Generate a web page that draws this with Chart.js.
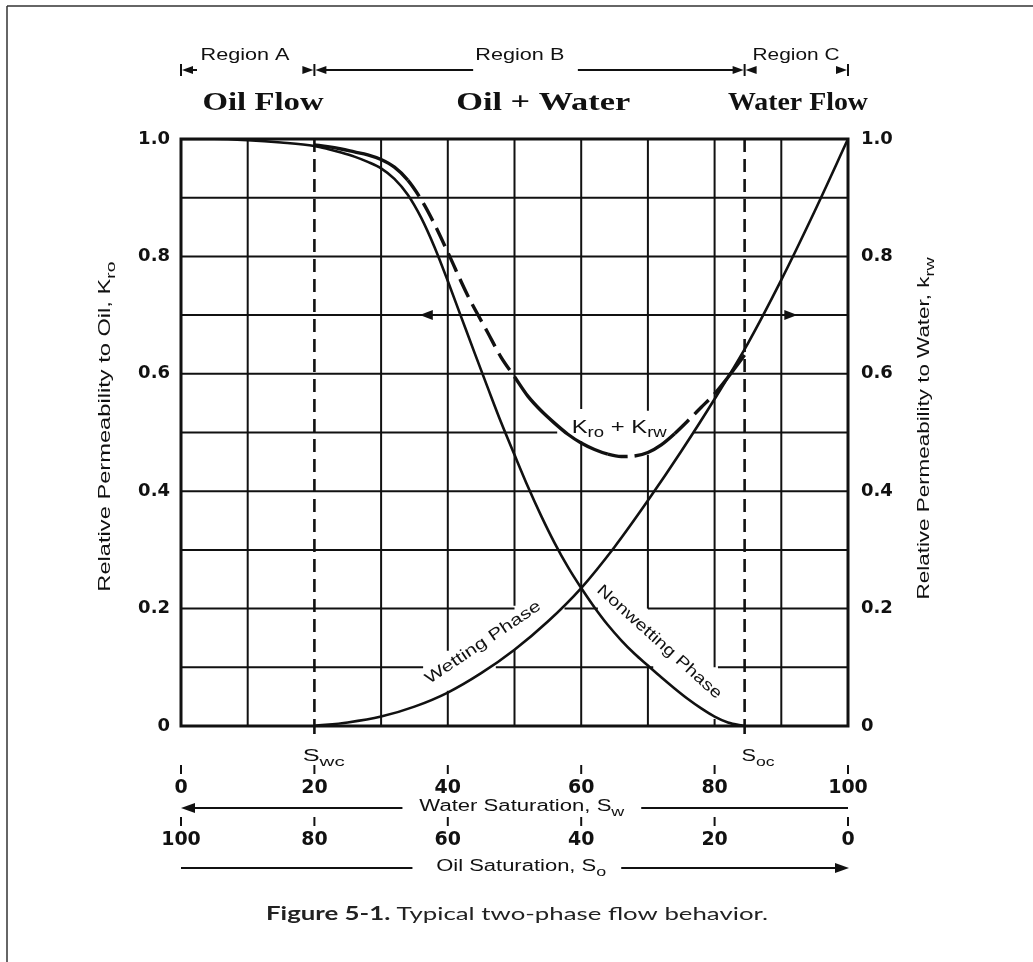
<!DOCTYPE html>
<html lang="en">
<head>
<meta charset="UTF-8" />
<title>Typical two-phase flow behavior</title>
<script src="https://cdn.jsdelivr.net/npm/chart.js"></script>
<style>
    html, body { margin: 0; background: #fff; }
    #flowChart { display: block; }
</style>
</head>
<body>
<canvas id="flowChart" width="1033" height="962"></canvas>
<script>
    // relative permeability to oil vs water saturation (%)
    const swOil = [0, 5, 10, 15, 20, 22, 24, 26, 28, 30, 32, 34, 36, 38, 40, 42, 44, 46, 48, 50, 52, 54, 56, 58, 60, 62, 64, 66, 68, 70, 72, 74, 76, 78, 80, 82, 84.5];
    const kro = [1.0, 1.0, 0.998, 0.994, 0.988, 0.983, 0.977, 0.97, 0.961, 0.95, 0.932, 0.905, 0.866, 0.816, 0.758, 0.697, 0.636, 0.576, 0.517, 0.462, 0.408, 0.358, 0.312, 0.271, 0.235, 0.202, 0.172, 0.146, 0.123, 0.103, 0.083, 0.064, 0.046, 0.03, 0.016, 0.006, 0];

    // relative permeability to water
    const swWater = [20, 25, 30, 35, 40, 45, 50, 55, 60, 65, 70, 75, 80, 85, 90, 95, 100];
    const krw = [0, 0.006, 0.016, 0.033, 0.057, 0.09, 0.13, 0.178, 0.235, 0.305, 0.384, 0.468, 0.557, 0.652, 0.76, 0.877, 1.0];

    // total relative permeability
    const swTotal = [20, 22, 24, 26, 28, 30, 32, 34, 36, 38, 40, 43, 46, 48, 50, 52, 54, 56, 58, 60, 62, 64, 66, 68, 70, 72, 74, 76, 78, 80, 82, 84.5];
    const kroPlusKrw = [0.99, 0.987, 0.983, 0.978, 0.973, 0.965, 0.952, 0.93, 0.897, 0.855, 0.807, 0.733, 0.67, 0.628, 0.595, 0.562, 0.537, 0.516, 0.497, 0.482, 0.471, 0.463, 0.459, 0.46, 0.466, 0.479, 0.498, 0.52, 0.543, 0.566, 0.594, 0.632];

    // tick labels
    const waterSatTicks = [0, 20, 40, 60, 80, 100];
    const oilSatTicks = [100, 80, 60, 40, 20, 0];
    const krTicks = [0, 0.2, 0.4, 0.6, 0.8, 1.0];
    const krTickLabels = ['0', '0.2', '0.4', '0.6', '0.8', '1.0'];

    // connate water / critical oil saturation, %
    const swc = 20;
    const soc = 84.5;

    const INK = '#111';
    const SANS = '"Liberation Sans", Arial, sans-serif';
    const SERIF = '"Liberation Serif", "Times New Roman", serif';
    const DIGITS = '"DejaVu Sans", Verdana, sans-serif';
    const CAPTION = 'Lato, "Open Sans", sans-serif';

    // grid pieces left blank behind the curve labels (axis units)
    const vGaps = { 40: [[0.06, 0.128]], 50: [[0.13, 0.205]], 60: [[0.485, 0.54]], 70: [[0.1, 0.2], [0.462, 0.537]], 80: [[0.012, 0.1]] };
    const hGaps = { '0.1': [[36.3, 47.2], [70.8, 80.5]], '0.2': [[50, 57.5], [62.5, 70]], '0.5': [[56.4, 76.8]] };

    // Sw ranges where the Kro + Krw curve is broken into dashes
    const sumDashed = [[34, 50], [64, 68], [74, 80]];

    const toPoints = (xs, ys) => xs.map((v, i) => ({ x: v, y: ys[i] }));

    function keep(lo, hi, gaps) {
        const out = [];
        let s = lo;
        (gaps || []).slice().sort((a, b) => a[0] - b[0]).forEach(([a, b]) => {
            if (a > s) out.push([s, a]);
            s = Math.max(s, b);
        });
        if (s < hi) out.push([s, hi]);
        return out;
    }

    function seg(ctx, x1, y1, x2, y2) {
        ctx.beginPath();
        ctx.moveTo(x1, y1);
        ctx.lineTo(x2, y2);
        ctx.stroke();
    }

    function arrowHead(ctx, tipX, tipY, dir, len, half) {
        ctx.beginPath();
        ctx.moveTo(tipX, tipY);
        ctx.lineTo(tipX - dir * len, tipY - half);
        ctx.lineTo(tipX - dir * len, tipY + half);
        ctx.closePath();
        ctx.fill();
    }

    // text made of plain and subscript runs, centred on (cx, cy)
    function drawRich(ctx, parts, cx, cy, o) {
        const size = o.size;
        const fam = o.family || SANS;
        const subSize = Math.round(size * 0.8);
        const fontOf = p => `${p.bold ? 'bold' : (o.weight || 'normal')} ${p.sub ? subSize : size}px ${fam}`;
        ctx.save();
        ctx.translate(cx, cy);
        if (o.angle) ctx.rotate(o.angle * Math.PI / 180);
        const widths = parts.map(p => { ctx.font = fontOf(p); return ctx.measureText(p.t).width; });
        const total = widths.reduce((a, b) => a + b, 0);
        if (o.width) ctx.scale(o.width / total, 1);
        ctx.textAlign = 'left';
        ctx.textBaseline = 'middle';
        ctx.fillStyle = o.color || INK;
        let x0 = -total / 2;
        parts.forEach((p, i) => {
            ctx.font = fontOf(p);
            ctx.fillText(p.t, x0, p.sub ? size * 0.32 : 0);
            x0 += widths[i];
        });
        ctx.restore();
    }

    const figurePlugin = {
        id: 'figure',
        beforeDatasetsDraw(chart) {
            const { ctx, scales: { x, y } } = chart;
            const X = v => x.getPixelForValue(v);
            const Y = v => y.getPixelForValue(v);
            ctx.save();
            ctx.strokeStyle = INK;
            ctx.fillStyle = INK;

            // grid, every 10 % and every 0.1
            ctx.lineWidth = 2;
            x.ticks.forEach(({ value }) => {
                if (value <= 0 || value >= 100 || value === swc) return;
                keep(0, 1, vGaps[value]).forEach(([a, b]) => seg(ctx, X(value), Y(a), X(value), Y(b)));
            });
            y.ticks.forEach(({ value }) => {
                if (value <= 0 || value >= 1) return;
                keep(0, 100, hGaps[value.toFixed(1)]).forEach(([a, b]) => seg(ctx, X(a), Y(value), X(b), Y(value)));
            });

            ctx.lineWidth = 3;
            ctx.strokeRect(X(0), Y(1), X(100) - X(0), Y(0) - Y(1));

            // which scale to read: arrows on the 0.7 line
            arrowHead(ctx, X(35.8), Y(0.7), -1, 13, 5);
            arrowHead(ctx, X(92.4), Y(0.7), 1, 13, 5);

            // Swc and Soc markers
            ctx.lineWidth = 2.6;
            ctx.setLineDash([13, 7]);
            [swc, soc].forEach(s => seg(ctx, X(s), Y(1), X(s), Y(0)));
            ctx.setLineDash([]);
            [swc, soc].forEach(s => seg(ctx, X(s), Y(0), X(s), Y(0) + 8));
            ctx.restore();
        },
        afterDatasetsDraw(chart) {
            const { ctx, scales: { x, y } } = chart;
            const X = v => x.getPixelForValue(v);
            const Y = v => y.getPixelForValue(v);
            drawRich(ctx, [{ t: 'K' }, { t: 'ro', sub: true }, { t: ' + K' }, { t: 'rw', sub: true }], X(65.7), Y(0.508), { size: 18, width: 95 });
            drawRich(ctx, [{ t: 'Wetting Phase' }], X(45.3), Y(0.142), { size: 16, width: 136, angle: -34 });
            drawRich(ctx, [{ t: 'Nonwetting Phase' }], X(71.7), Y(0.143), { size: 16, width: 162, angle: 42 });
        },
        afterDraw(chart) {
            const { ctx, scales: { x, y } } = chart;
            const X = v => x.getPixelForValue(v);
            const Y = v => y.getPixelForValue(v);
            ctx.save();
            ctx.strokeStyle = INK;
            ctx.fillStyle = INK;

            // page frame
            ctx.strokeStyle = '#333';
            ctx.lineWidth = 1.5;
            seg(ctx, 7, 6, 7, 962);
            seg(ctx, 7, 6, 1033, 6);
            ctx.strokeStyle = INK;

            // flow regions across the top
            const ym = 70;
            ctx.lineWidth = 2;
            seg(ctx, X(0), ym - 6, X(0), ym + 6);
            arrowHead(ctx, X(0) + 1, ym, -1, 11, 4);
            seg(ctx, X(0) + 10, ym, X(0) + 16, ym);
            [swc, soc].forEach(s => {
                seg(ctx, X(s), ym - 6, X(s), ym + 6);
                arrowHead(ctx, X(s) - 1, ym, 1, 11, 4);
                arrowHead(ctx, X(s) + 1, ym, -1, 11, 4);
            });
            seg(ctx, X(100), ym - 6, X(100), ym + 6);
            arrowHead(ctx, X(100) - 1, ym, 1, 11, 4);
            seg(ctx, X(swc) + 10, ym, X(43.8), ym);
            seg(ctx, X(59.5), ym, X(soc) - 10, ym);

            drawRich(ctx, [{ t: 'Region A' }], X(9.6), 55, { size: 17, width: 89 });
            drawRich(ctx, [{ t: 'Region B' }], X(50.8), 55, { size: 17, width: 89 });
            drawRich(ctx, [{ t: 'Region C' }], X(92.2), 55, { size: 17, width: 87 });
            drawRich(ctx, [{ t: 'Oil Flow' }], X(12.3), 103, { size: 26, family: SERIF, weight: 'bold', width: 121 });
            drawRich(ctx, [{ t: 'Oil + Water' }], X(54.3), 103, { size: 26, family: SERIF, weight: 'bold', width: 174 });
            drawRich(ctx, [{ t: 'Water Flow' }], X(92.5), 103, { size: 26, family: SERIF, weight: 'bold', width: 140 });

            // axis titles
            drawRich(ctx, [{ t: 'Relative Permeability to Oil, K' }, { t: 'ro', sub: true }], 106, Y(0.51), { size: 16, width: 330, angle: -90 });
            drawRich(ctx, [{ t: 'Relative Permeability to Water, k' }, { t: 'rw', sub: true }], 925, Y(0.507), { size: 16, width: 342, angle: -90 });

            // saturation endpoints
            drawRich(ctx, [{ t: 'S' }, { t: 'wc', sub: true }], X(21.4), 757, { size: 16, width: 42 });
            drawRich(ctx, [{ t: 'S' }, { t: 'oc', sub: true }], X(86.5), 757, { size: 16, width: 33 });

            // small tick marks over both saturation scales
            ctx.lineWidth = 2;
            waterSatTicks.forEach(v => {
                seg(ctx, X(v), 765, X(v), 774);
                seg(ctx, X(v), 817, X(v), 826);
            });

            // water saturation grows to the left arrow, oil saturation to the right
            ctx.lineWidth = 2.2;
            seg(ctx, X(0) + 10, 808, X(33.2), 808);
            arrowHead(ctx, X(0), 808, -1, 14, 5);
            seg(ctx, X(69), 808, X(100), 808);
            drawRich(ctx, [{ t: 'Water Saturation, S' }, { t: 'w', sub: true }], X(51.1), 807, { size: 16, width: 205 });

            seg(ctx, X(0), 868, X(34.7), 868);
            seg(ctx, X(66), 868, X(100) - 10, 868);
            arrowHead(ctx, X(100) + 1, 868, 1, 14, 5);
            drawRich(ctx, [{ t: 'Oil Saturation, S' }, { t: 'o', sub: true }], X(51), 867, { size: 16, width: 170 });

            // caption
            drawRich(ctx, [{ t: 'Figure 5-1. ', bold: true }, { t: 'Typical two-phase flow behavior.' }], 517, 914, { size: 18, family: CAPTION, width: 502, color: '#222' });
            ctx.restore();
        }
    };

    const tickFont = { family: DIGITS, size: 18, weight: 'bold' };
    const krLabel = v => {
        const i = krTicks.findIndex(t => Math.abs(t - v) < 1e-6);
        return i >= 0 ? krTickLabels[i] : '';
    };

    const chart = new Chart(document.getElementById('flowChart'), {
        type: 'scatter',
        data: {
            datasets: [
                {
                    label: 'Kro (nonwetting phase)',
                    data: toPoints(swOil, kro),
                    showLine: true,
                    borderColor: INK,
                    borderWidth: 2.6,
                    pointRadius: 0,
                    cubicInterpolationMode: 'monotone'
                },
                {
                    label: 'Krw (wetting phase)',
                    data: toPoints(swWater, krw),
                    showLine: true,
                    borderColor: INK,
                    borderWidth: 2.6,
                    pointRadius: 0,
                    cubicInterpolationMode: 'monotone'
                },
                {
                    label: 'Kro + Krw',
                    data: toPoints(swTotal, kroPlusKrw),
                    showLine: true,
                    borderColor: INK,
                    borderWidth: 3.4,
                    pointRadius: 0,
                    cubicInterpolationMode: 'monotone',
                    segment: {
                        borderDash: c => sumDashed.some(([a, b]) => c.p0.parsed.x >= a && c.p0.parsed.x < b) ? [20, 8] : undefined
                    }
                }
            ]
        },
        options: {
            responsive: false,
            animation: false,
            devicePixelRatio: 1,
            layout: { padding: { left: 121, right: 125, top: 139, bottom: 99 } },
            plugins: { legend: { display: false }, tooltip: { enabled: false } },
            scales: {
                x: {
                    type: 'linear', position: 'bottom', min: 0, max: 100, weight: 0,
                    grid: { display: false, drawTicks: false }, border: { display: false },
                    ticks: {
                        stepSize: 10, autoSkip: false, maxRotation: 0, padding: 51, color: INK, font: { ...tickFont, size: 19 },
                        callback: v => waterSatTicks.includes(v) ? String(v) : ''
                    },
                    afterFit: s => { s.height = 75; }
                },
                x2: {
                    type: 'linear', position: 'bottom', min: 0, max: 100, weight: 1,
                    grid: { display: false, drawTicks: false }, border: { display: false },
                    ticks: {
                        stepSize: 10, autoSkip: false, maxRotation: 0, padding: 28, color: INK, font: { ...tickFont, size: 19 },
                        callback: v => {
                            const i = waterSatTicks.indexOf(v);
                            return i >= 0 ? String(oilSatTicks[i]) : '';
                        }
                    },
                    afterFit: s => { s.height = 62; }
                },
                y: {
                    type: 'linear', position: 'left', min: 0, max: 1,
                    grid: { display: false, drawTicks: false }, border: { display: false },
                    ticks: { stepSize: 0.1, autoSkip: false, padding: 11, color: INK, font: tickFont, callback: krLabel },
                    afterFit: s => { s.width = 60; }
                },
                y2: {
                    type: 'linear', position: 'right', min: 0, max: 1,
                    grid: { display: false, drawTicks: false }, border: { display: false },
                    ticks: { stepSize: 0.1, autoSkip: false, padding: 13, color: INK, font: tickFont, callback: krLabel },
                    afterFit: s => { s.width = 60; }
                }
            }
        },
        plugins: [figurePlugin]
    });
</script>
</body>
</html>
